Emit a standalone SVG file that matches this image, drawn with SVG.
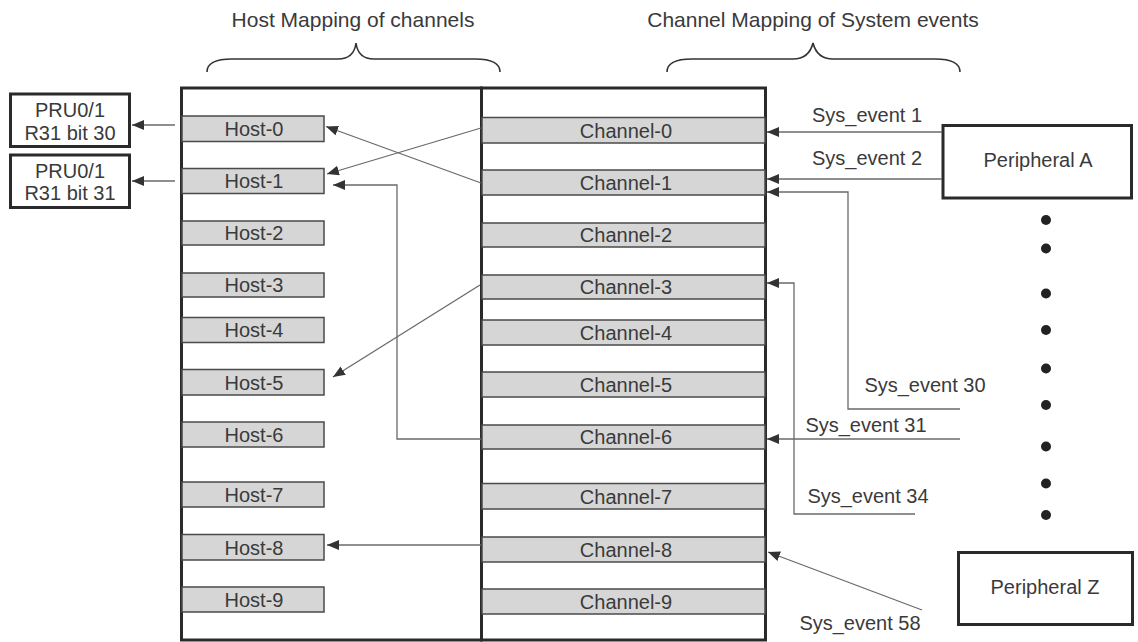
<svg xmlns="http://www.w3.org/2000/svg" width="1138" height="642" viewBox="0 0 1138 642">
<defs>
<marker id="ah" viewBox="0 0 12 10" refX="12" refY="5" markerWidth="12" markerHeight="10" markerUnits="userSpaceOnUse" orient="auto">
<path d="M0,0 L12,5 L0,10 z" fill="#333"/>
</marker>
</defs>
<style>
text{font-family:"Liberation Sans",Arial,sans-serif;font-size:20px;fill:#3a3a3a;text-anchor:middle}
.title{font-size:21px}
.bar{fill:#d6d6d6;stroke:#4a4a4a;stroke-width:1.5}
.box{fill:#fff;stroke:#2a2a2a;stroke-width:3}
.panel{fill:none;stroke:#2a2a2a;stroke-width:3}
.conn{fill:none;stroke:#6a6a6a;stroke-width:1.3;marker-end:url(#ah)}
.brace{fill:none;stroke:#333;stroke-width:1.6}
.dot{fill:#222}
</style>
<rect width="1138" height="642" fill="#fff"/>

<g id="titles">
<text class="title" x="353" y="27">Host Mapping of channels</text>
<text class="title" x="813" y="27">Channel Mapping of System events</text>
<path class="brace" d="M207,72 Q207,59 232,59 L338,59 Q354,59 356,43 Q358,59 374,59 L475,59 Q500,59 500,72"/>
<path class="brace" d="M667,72 Q667,59 692,59 L793,59 Q809,59 813,43 Q817,59 833,59 L935,59 Q960,59 960,72"/>
</g>

<g id="host-panel">
<rect class="panel" x="181.5" y="88" width="300" height="552"/>
</g>
<g id="channel-panel">
<rect class="panel" x="481.5" y="88" width="284" height="552"/>
</g>

<g id="hosts">
<g id="host-0"><rect class="bar" x="182" y="116" width="142" height="25.5"/><text x="254" y="136">Host-0</text></g>
<g id="host-1"><rect class="bar" x="182" y="168.5" width="142" height="25"/><text x="254" y="188">Host-1</text></g>
<g id="host-2"><rect class="bar" x="182" y="221" width="142" height="24"/><text x="254" y="240">Host-2</text></g>
<g id="host-3"><rect class="bar" x="182" y="273" width="142" height="24"/><text x="254" y="292">Host-3</text></g>
<g id="host-4"><rect class="bar" x="182" y="317.5" width="142" height="25"/><text x="254" y="337">Host-4</text></g>
<g id="host-5"><rect class="bar" x="182" y="369.5" width="142" height="25.5"/><text x="254" y="389.5">Host-5</text></g>
<g id="host-6"><rect class="bar" x="182" y="422" width="142" height="25"/><text x="254" y="441.5">Host-6</text></g>
<g id="host-7"><rect class="bar" x="182" y="482" width="142" height="25"/><text x="254" y="501.5">Host-7</text></g>
<g id="host-8"><rect class="bar" x="182" y="534.5" width="142" height="25.5"/><text x="254" y="554.5">Host-8</text></g>
<g id="host-9"><rect class="bar" x="182" y="587" width="142" height="25"/><text x="254" y="606.5">Host-9</text></g>
</g>

<g id="channels">
<g id="channel-0"><rect class="bar" x="482" y="117.5" width="283" height="25.5"/><text x="626" y="137.5">Channel-0</text></g>
<g id="channel-1"><rect class="bar" x="482" y="170" width="283" height="25"/><text x="626" y="189.5">Channel-1</text></g>
<g id="channel-2"><rect class="bar" x="482" y="223" width="283" height="24"/><text x="626" y="242">Channel-2</text></g>
<g id="channel-3"><rect class="bar" x="482" y="275" width="283" height="24"/><text x="626" y="294">Channel-3</text></g>
<g id="channel-4"><rect class="bar" x="482" y="320" width="283" height="25"/><text x="626" y="339.5">Channel-4</text></g>
<g id="channel-5"><rect class="bar" x="482" y="372" width="283" height="25"/><text x="626" y="391.5">Channel-5</text></g>
<g id="channel-6"><rect class="bar" x="482" y="425" width="283" height="24"/><text x="626" y="444">Channel-6</text></g>
<g id="channel-7"><rect class="bar" x="482" y="483.5" width="283" height="25.5"/><text x="626" y="503.5">Channel-7</text></g>
<g id="channel-8"><rect class="bar" x="482" y="537" width="283" height="25"/><text x="626" y="556.5">Channel-8</text></g>
<g id="channel-9"><rect class="bar" x="482" y="589" width="283" height="25"/><text x="626" y="608.5">Channel-9</text></g>
</g>

<g id="pru-30">
<rect class="box" x="10.5" y="94" width="119" height="52.5"/>
<text x="70" y="117">PRU0/1</text>
<text x="70" y="139.5">R31 bit 30</text>
</g>
<g id="pru-31">
<rect class="box" x="10.5" y="155" width="119" height="52.5"/>
<text x="70" y="177.5">PRU0/1</text>
<text x="70" y="200">R31 bit 31</text>
</g>

<g id="peripheral-a">
<rect class="box" x="943" y="125.5" width="188.5" height="72.5"/>
<text x="1038" y="167">Peripheral A</text>
</g>
<g id="peripheral-z">
<rect class="box" x="958.5" y="552.5" width="174" height="72"/>
<text x="1045" y="594">Peripheral Z</text>
</g>

<g id="ellipsis">
<circle class="dot" cx="1046" cy="220" r="5"/>
<circle class="dot" cx="1046" cy="248.5" r="5"/>
<circle class="dot" cx="1046" cy="293.5" r="5"/>
<circle class="dot" cx="1046" cy="330" r="5"/>
<circle class="dot" cx="1046" cy="368.5" r="5"/>
<circle class="dot" cx="1046" cy="405" r="5"/>
<circle class="dot" cx="1046" cy="446.5" r="5"/>
<circle class="dot" cx="1046" cy="483.5" r="5"/>
<circle class="dot" cx="1046" cy="515" r="5"/>
</g>

<g id="connectors">
<path class="conn" d="M175,125 L132,125"/>
<path class="conn" d="M175,181 L132,181"/>
<path class="conn" d="M481,128 L327,174"/>
<path class="conn" d="M481,183 L326,126.5"/>
<path class="conn" d="M481,439 L397,439 L397,185 L333,185"/>
<path class="conn" d="M480,285 L333,377"/>
<path class="conn" d="M481,545 L327,545"/>
<path class="conn" d="M942,132 L767,132"/>
<path class="conn" d="M942,179 L767,179"/>
<path class="conn" d="M960,409 L848,409 L848,192 L767,192"/>
<path class="conn" d="M960,439 L767,439"/>
<path class="conn" d="M915,514 L794,514 L794,283 L767,283"/>
<path class="conn" d="M922,610 L768,552"/>
</g>

<g id="labels">
<text x="867" y="122">Sys_event 1</text>
<text x="867" y="165">Sys_event 2</text>
<text x="925" y="392">Sys_event 30</text>
<text x="866" y="432">Sys_event 31</text>
<text x="868" y="503">Sys_event 34</text>
<text x="860" y="630">Sys_event 58</text>
</g>
</svg>
